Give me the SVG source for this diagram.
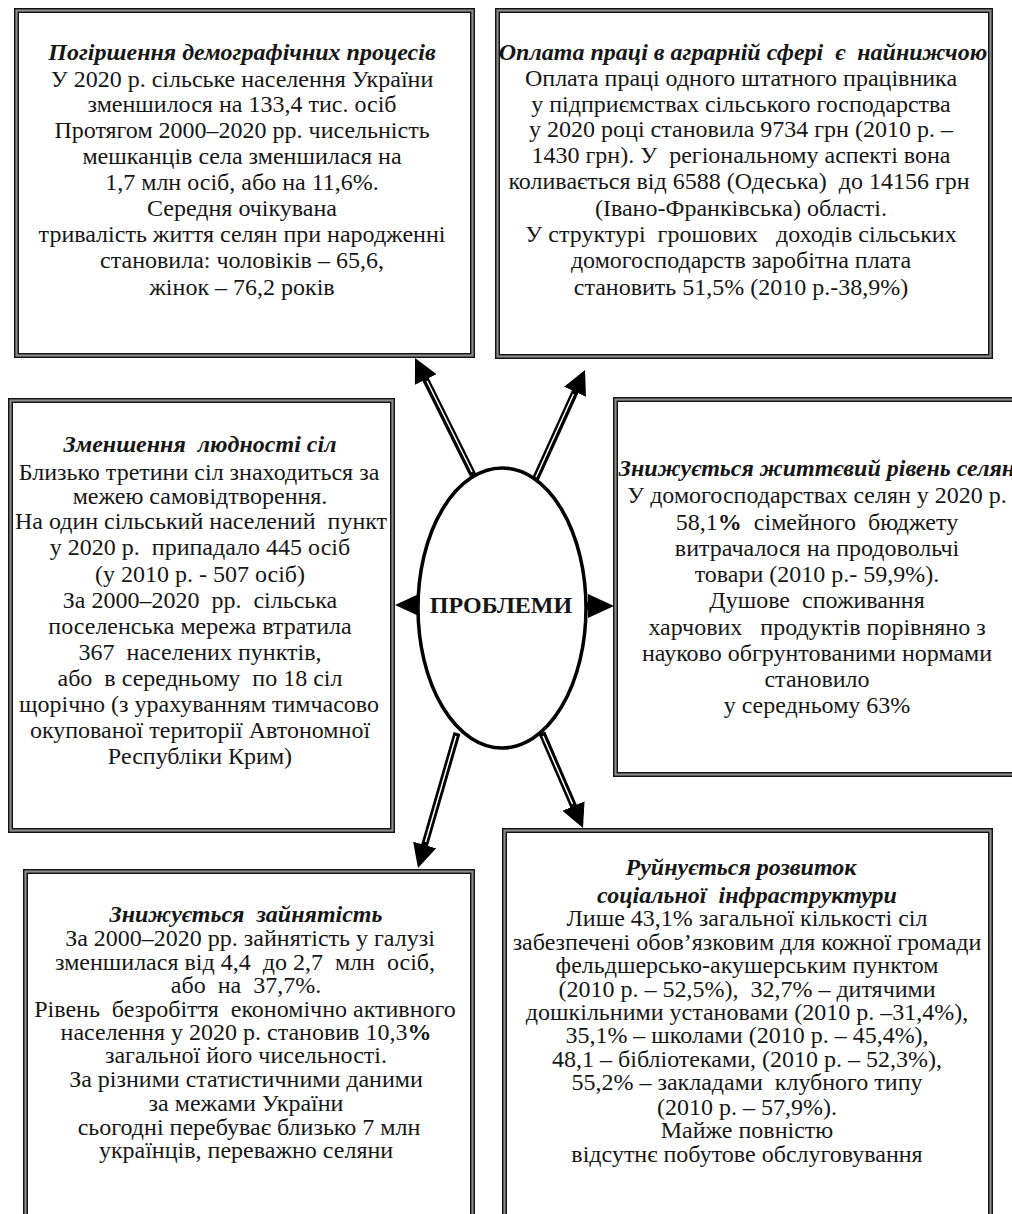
<svg xmlns="http://www.w3.org/2000/svg" width="1012" height="1214" viewBox="0 0 1012 1214">
<style>
.frame{fill:#fff;stroke:#111;stroke-width:5}
.frame2{fill:none;stroke:#8a8a8a;stroke-width:2.2}
text{font-family:'Liberation Serif','Times New Roman',serif;font-size:24px;fill:#161616;text-anchor:middle;white-space:pre}
.t{font-weight:bold;font-style:italic}
.b{font-weight:bold}
.shaft{stroke:#000;stroke-width:7;fill:none}
.inner{stroke:#fff;stroke-width:1.5;fill:none}
.head{fill:#000}
</style>
<defs>
<marker id="ah" markerUnits="userSpaceOnUse" markerWidth="26" markerHeight="24" refX="2" refY="12" orient="auto" viewBox="0 0 26 24">
<path d="M0,0 L24,12 L0,24 z" fill="#000"/>
</marker>
</defs>
<rect width="1012" height="1214" fill="#fff"/>

<g id="node-demography">
<rect class="frame" x="16.5" y="10.5" width="456" height="345"/>
<rect class="frame2" x="16.5" y="10.5" width="456" height="345"/>
<text class="t" x="242" y="60">Погіршення демографічних процесів</text>
<text x="242" y="87">У 2020 р. сільське населення України</text>
<text x="242" y="112">зменшилося на 133,4 тис. осіб</text>
<text x="242" y="138">Протягом 2000–2020 рр. чисельність</text>
<text x="242" y="164">мешканців села зменшилася на</text>
<text x="242" y="190">1,7 млн осіб, або на 11,6%.</text>
<text x="242" y="216">Середня очікувана</text>
<text x="242" y="242">тривалість життя селян при народженні</text>
<text x="242" y="268">становила: чоловіків – 65,6,</text>
<text x="242" y="295">жінок – 76,2 років</text>
</g>

<g id="node-wages">
<rect class="frame" x="497.5" y="10.5" width="493" height="346"/>
<rect class="frame2" x="497.5" y="10.5" width="493" height="346"/>
<text class="t" x="743" y="60">Оплата праці в аграрній сфері  є  найнижчою</text>
<text x="741" y="86">Оплата праці одного штатного працівника</text>
<text x="741" y="112">у підприємствах сільського господарства</text>
<text x="741" y="137">у 2020 році становила 9734 грн (2010 р. –</text>
<text x="741" y="163">1430 грн). У  регіональному аспекті вона</text>
<text x="739" y="189">коливається від 6588 (Одеська)  до 14156 грн</text>
<text x="741" y="216">(Івано-Франківська) області.</text>
<text x="741" y="242">У структурі  грошових   доходів сільських</text>
<text x="741" y="268">домогосподарств заробітна плата</text>
<text x="741" y="295">становить 51,5% (2010 р.-38,9%)</text>
</g>

<g id="node-villages">
<rect class="frame" x="10.5" y="400.5" width="382" height="430"/>
<rect class="frame2" x="10.5" y="400.5" width="382" height="430"/>
<text class="t" x="200" y="452">Зменшення  людності сіл</text>
<text x="199" y="480">Близько третини сіл знаходиться за</text>
<text x="200" y="504">межею самовідтворення.</text>
<text x="201" y="529">На один сільський населений  пункт</text>
<text x="200" y="555">у 2020 р.  припадало 445 осіб</text>
<text x="200" y="582">(у 2010 р. - 507 осіб)</text>
<text x="200" y="608">За 2000–2020  рр.  сільська</text>
<text x="200" y="634">поселенська мережа втратила</text>
<text x="200" y="660">367  населених пунктів,</text>
<text x="200" y="686">або  в середньому  по 18 сіл</text>
<text x="199" y="712">щорічно (з урахуванням тимчасово</text>
<text x="200" y="738">окупованої території Автономної</text>
<text x="200" y="764">Республіки Крим)</text>
</g>

<g id="node-living">
<rect class="frame" x="615.5" y="399.5" width="420" height="375"/>
<rect class="frame2" x="615.5" y="399.5" width="420" height="375"/>
<text class="t" x="817" y="476">Знижується життєвий рівень селян</text>
<text x="817" y="503">У домогосподарствах селян у 2020 р.</text>
<text x="817" y="530">58,1<tspan class="b">%</tspan>  сімейного  бюджету</text>
<text x="817" y="556">витрачалося на продовольчі</text>
<text x="817" y="582">товари (2010 р.- 59,9%).</text>
<text x="817" y="608">Душове  споживання</text>
<text x="817" y="635">харчових   продуктів порівняно з</text>
<text x="817" y="661">науково обгрунтованими нормами</text>
<text x="817" y="687">становило</text>
<text x="817" y="713">у середньому 63%</text>
</g>

<g id="node-employment">
<rect class="frame" x="25.5" y="871.5" width="447" height="360"/>
<rect class="frame2" x="25.5" y="871.5" width="447" height="360"/>
<text class="t" x="246" y="922">Знижується  зайнятість</text>
<text x="250" y="946">За 2000–2020 рр. зайнятість у галузі</text>
<text x="245" y="970">зменшилася від 4,4  до 2,7  млн  осіб,</text>
<text x="246" y="993">або  на  37,7%.</text>
<text x="245" y="1017">Рівень  безробіття  економічно активного</text>
<text x="246" y="1040">населення у 2020 р. становив 10,3<tspan class="b">%</tspan></text>
<text x="246" y="1063">загальної його чисельності.</text>
<text x="246" y="1087">За різними статистичними даними</text>
<text x="246" y="1111">за межами України</text>
<text x="249" y="1135">сьогодні перебуває близько 7 млн</text>
<text x="246" y="1158">українців, переважно селяни</text>
</g>

<g id="node-infrastructure">
<rect class="frame" x="504.5" y="830.5" width="486" height="400"/>
<rect class="frame2" x="504.5" y="830.5" width="486" height="400"/>
<text class="t" x="741" y="875">Руйнується розвиток</text>
<text class="t" x="747" y="903">соціальної  інфраструктури</text>
<text x="747" y="926">Лише 43,1% загальної кількості сіл</text>
<text x="747" y="950">забезпечені обов’язковим для кожної громади</text>
<text x="747" y="973">фельдшерсько-акушерським пунктом</text>
<text x="747" y="997">(2010 р. – 52,5%),  32,7% – дитячими</text>
<text x="747" y="1020">дошкільними установами (2010 р. –31,4%),</text>
<text x="747" y="1043">35,1% – школами (2010 р. – 45,4%),</text>
<text x="747" y="1067">48,1 – бібліотеками, (2010 р. – 52,3%),</text>
<text x="747" y="1090">55,2% – закладами  клубного типу</text>
<text x="747" y="1115">(2010 р. – 57,9%).</text>
<text x="747" y="1138">Майже повністю</text>
<text x="747" y="1162">відсутнє побутове обслуговування</text>
</g>

<g id="connectors">
<line class="shaft" x1="473" y1="475" x2="424.8" y2="377.7" marker-end="url(#ah)"/>
<line class="inner" x1="472" y1="472" x2="427" y2="381"/>
<line class="shaft" x1="535" y1="480" x2="575.9" y2="390" marker-end="url(#ah)"/>
<line class="inner" x1="536" y1="477" x2="573.5" y2="394"/>
<line class="shaft" x1="457" y1="733" x2="424.1" y2="846.9" marker-end="url(#ah)"/>
<line class="inner" x1="456" y1="736" x2="425.5" y2="842"/>
<line class="shaft" x1="542" y1="733" x2="574.3" y2="807.8" marker-end="url(#ah)"/>
<line class="inner" x1="543" y1="736" x2="572.5" y2="804"/>
<polygon class="head" points="395,605 421,593 421,617"/>
<line class="shaft" x1="584" y1="606" x2="590" y2="606"/>
<polygon class="head" points="588,594 614,606 588,618"/>
</g>

<g id="node-problems">
<ellipse cx="502" cy="608" rx="84" ry="140" fill="#fff" stroke="#000" stroke-width="3.5"/>
<text class="b" x="501" y="613">ПРОБЛЕМИ</text>
</g>
</svg>
